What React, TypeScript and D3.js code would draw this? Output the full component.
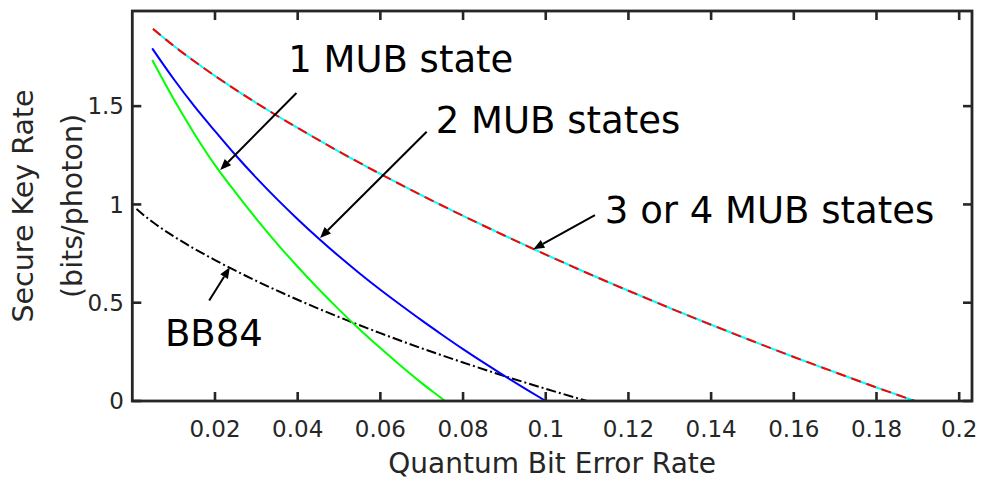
import React from 'react';
import * as d3 from 'd3';

// ---- data ----
const xTicks = [0.02, 0.04, 0.06, 0.08, 0.1, 0.12, 0.14, 0.16, 0.18, 0.2];
const xTickLabels = ['0.02', '0.04', '0.06', '0.08', '0.1', '0.12', '0.14', '0.16', '0.18', '0.2'];
const yTicks = [0, 0.5, 1, 1.5];
const yTickLabels = ['0', '0.5', '1', '1.5'];

// 3 or 4 MUB states
const q34 = [0.005, 0.01, 0.02, 0.03, 0.04, 0.05, 0.06, 0.07, 0.08, 0.09, 0.1, 0.11, 0.12, 0.13, 0.14, 0.15, 0.16, 0.17, 0.18, 0.185, 0.1893];
const r34 = [1.893, 1.807, 1.654, 1.516, 1.389, 1.269, 1.155, 1.046, 0.942, 0.842, 0.745, 0.651, 0.561, 0.473, 0.388, 0.305, 0.224, 0.146, 0.069, 0.032, 0];

// 2 MUB states
const q2 = [0.0048, 0.01, 0.015, 0.02, 0.025, 0.03, 0.035, 0.04, 0.045, 0.05, 0.055, 0.06, 0.065, 0.07, 0.075, 0.08, 0.085, 0.09, 0.095, 0.1];
const r2 = [1.794, 1.638, 1.5, 1.373, 1.25, 1.135, 1.027, 0.925, 0.828, 0.736, 0.649, 0.566, 0.487, 0.41, 0.336, 0.264, 0.195, 0.128, 0.063, 0];

// 1 MUB state
const q1 = [0.0048, 0.01, 0.015, 0.02, 0.025, 0.03, 0.035, 0.04, 0.045, 0.05, 0.055, 0.06, 0.065, 0.07, 0.075, 0.0756];
const r1 = [1.735, 1.536, 1.36, 1.2, 1.06, 0.927, 0.801, 0.683, 0.571, 0.465, 0.364, 0.269, 0.178, 0.091, 0.01, 0];

// BB84
const qBB = [0.001, 0.0025, 0.005, 0.01, 0.02, 0.03, 0.04, 0.05, 0.06, 0.07, 0.08, 0.09, 0.1, 0.11];
const rBB = [0.977, 0.95, 0.909, 0.838, 0.717, 0.611, 0.515, 0.427, 0.345, 0.268, 0.196, 0.127, 0.062, 0];

// annotations: text anchor (data units), arrow tail and tip (data units)
const annLabels = ['1 MUB state', '2 MUB states', '3 or 4 MUB states', 'BB84'];
const annTextQ = [0.0377, 0.0734, 0.1143, 0.0079];
const annTextR = [1.675, 1.362, 0.907, 0.28];
const annTailQ = [0.0397, 0.0712, 0.1119, 0.0186];
const annTailR = [1.567, 1.37, 0.946, 0.511];
const annTipQ = [0.02126, 0.0454, 0.097, 0.0236];
const annTipR = [1.175, 0.829, 0.772, 0.68];

const xDomain = [0, 0.2031];
const yDomain = [0, 1.984];

const W = 983;
const H = 481;
const left = 132.3;
const right = 972;
const top = 11;
const bottom = 401;

const FONT = '"DejaVu Sans", sans-serif';
const AX = '#262626';

export default function App() {
  const x = d3.scaleLinear().domain(xDomain).range([left, right]);
  const y = d3.scaleLinear().domain(yDomain).range([bottom, top]);
  const mk = (qs: number[], rs: number[]) =>
    d3
      .line<number>()
      .x((_, i) => x(qs[i]))
      .y((_, i) => y(rs[i]))
      .curve(d3.curveMonotoneX)(qs.map((_, i) => i)) || '';

  const tick = 9;

  const arrows = annLabels.map((_, i) => {
    const x0 = x(annTailQ[i]);
    const y0 = y(annTailR[i]);
    const x1 = x(annTipQ[i]);
    const y1 = y(annTipR[i]);
    const dx = x1 - x0;
    const dy = y1 - y0;
    const len = Math.hypot(dx, dy);
    const ux = dx / len;
    const uy = dy / len;
    const hl = 11;
    const hw = 4.5;
    const bx = x1 - ux * hl;
    const by = y1 - uy * hl;
    const pts = [
      [x1, y1],
      [bx - uy * hw, by + ux * hw],
      [bx + uy * hw, by - ux * hw],
    ];
    return { x0, y0, bx, by, pts };
  });

  return (
    <svg
      width={W}
      height={H}
      style={{ position: 'absolute', left: 0, top: 0, background: '#fff' }}
    >
      <rect x={0} y={0} width={W} height={H} fill="#fff" />
      {/* curves */}
      <path d={mk(qBB, rBB)} fill="none" stroke="#000" strokeWidth={2} strokeDasharray="10,3,2,3" />
      <path d={mk(q1, r1)} fill="none" stroke="#00ff00" strokeWidth={2} />
      <path d={mk(q2, r2)} fill="none" stroke="#0000ff" strokeWidth={2} />
      <path d={mk(q34, r34)} fill="none" stroke="#00ffff" strokeWidth={2} />
      <path d={mk(q34, r34)} fill="none" stroke="#ff0000" strokeWidth={2} strokeDasharray="10,6" />

      {/* axes box */}
      <rect x={left} y={top} width={right - left} height={bottom - top} fill="none" stroke={AX} strokeWidth={2.8} />
      {xTicks.map((t, i) => (
        <g key={'xt' + i}>
          <line x1={x(t)} x2={x(t)} y1={bottom} y2={bottom - tick} stroke={AX} strokeWidth={2.6} />
          <line x1={x(t)} x2={x(t)} y1={top} y2={top + tick} stroke={AX} strokeWidth={2.6} />
          <text x={x(t)} y={436.5} textAnchor="middle" fontFamily={FONT} fontSize={23} fill={AX}>
            {xTickLabels[i]}
          </text>
        </g>
      ))}
      {yTicks.map((t, i) => (
        <g key={'yt' + i}>
          <line x1={left} x2={left + tick} y1={y(t)} y2={y(t)} stroke={AX} strokeWidth={2.6} />
          <line x1={right} x2={right - tick} y1={y(t)} y2={y(t)} stroke={AX} strokeWidth={2.6} />
          <text x={124} y={y(t)} dy="0.36em" textAnchor="end" fontFamily={FONT} fontSize={23} fill={AX}>
            {yTickLabels[i]}
          </text>
        </g>
      ))}

      {/* axis labels */}
      <text x={(left + right) / 2} y={473} textAnchor="middle" fontFamily={FONT} fontSize={28} fill={AX}>
        Quantum Bit Error Rate
      </text>
      <text
        transform={`translate(33,${(top + bottom) / 2}) rotate(-90)`}
        textAnchor="middle"
        fontFamily={FONT}
        fontSize={28.5}
        fill={AX}
      >
        Secure Key Rate
      </text>
      <text
        transform={`translate(82,${(top + bottom) / 2}) rotate(-90)`}
        textAnchor="middle"
        fontFamily={FONT}
        fontSize={28.5}
        fill={AX}
      >
        (bits/photon)
      </text>

      {/* annotations */}
      {annLabels.map((lab, i) => (
        <g key={'a' + i}>
          <line x1={arrows[i].x0} y1={arrows[i].y0} x2={arrows[i].bx} y2={arrows[i].by} stroke="#000" strokeWidth={2} />
          <polygon points={arrows[i].pts.map((p) => p.join(',')).join(' ')} fill="#000" />
          <text x={x(annTextQ[i])} y={y(annTextR[i])} fontFamily={FONT} fontSize={37} fill="#000">
            {lab}
          </text>
        </g>
      ))}
    </svg>
  );
}
